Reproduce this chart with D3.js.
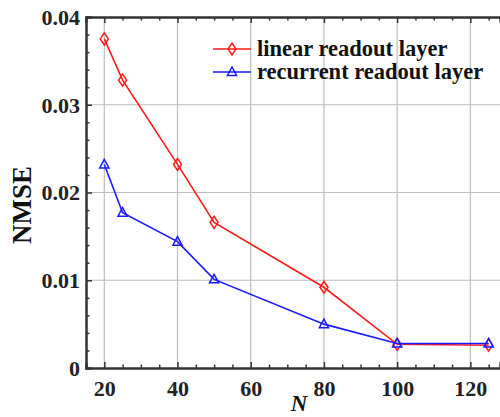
<!DOCTYPE html>
<html><head><meta charset="utf-8">
<script src="https://cdn.jsdelivr.net/npm/d3@7"></script>
<style>body{margin:0;background:#fff}svg{display:block}</style>
</head><body>
<svg id="c" width="500" height="417"></svg>
<script>
const nValues = [20, 25, 40, 50, 80, 100, 125];
const linearNMSE = [0.0375, 0.0328, 0.0232, 0.0166, 0.0092, 0.0027, 0.0026];
const recurrentNMSE = [0.0232, 0.0177, 0.0144, 0.0101, 0.0050, 0.0028, 0.0028];
const xTicks = [20, 40, 60, 80, 100, 120];
const yTicks = [0, 0.01, 0.02, 0.03, 0.04];
const yTickLabels = ["0", "0.01", "0.02", "0.03", "0.04"];
const seriesNames = ["linear readout layer", "recurrent readout layer"];

(function () {
const svg = d3.select("#c");
const L = 86, R = 500, T = 17, B = 368;
const x = d3.scaleLinear().domain([15, 128.1]).range([L, R]);
const y = d3.scaleLinear().domain([0, 0.04]).range([B, T]);
const font = "'Liberation Serif','Times New Roman',serif";
const axisColor = "#333";

const g = svg.append("g");
g.selectAll(".vg").data(xTicks).join("line")
  .attr("x1", d => x(d)).attr("x2", d => x(d)).attr("y1", T).attr("y2", B)
  .attr("stroke", "#bdbdbd").attr("stroke-width", 1.2);
g.selectAll(".hg").data(yTicks.filter(d => d > 0 && d < 0.04)).join("line")
  .attr("x1", L).attr("x2", R).attr("y1", d => y(d)).attr("y2", d => y(d))
  .attr("stroke", "#bdbdbd").attr("stroke-width", 1.2);

const xMinor = d3.range(20, 130, 5).filter(d => !xTicks.includes(d));
const yMinor = d3.range(1, 20).map(k => k * 0.002).filter((d, i) => (i + 1) % 5 !== 0);

const axBottom = svg.append("g").attr("transform", `translate(0,${B})`)
  .call(d3.axisBottom(x).tickValues(xTicks).tickSize(-6).tickPadding(12).tickFormat(d3.format("d")));
const axBottomMinor = svg.append("g").attr("transform", `translate(0,${B})`)
  .call(d3.axisBottom(x).tickValues(xMinor).tickSize(-3.5).tickFormat(""));
const axTop = svg.append("g").attr("transform", `translate(0,${T})`)
  .call(d3.axisTop(x).tickValues(xTicks).tickSize(-6).tickFormat(""));
const axTopMinor = svg.append("g").attr("transform", `translate(0,${T})`)
  .call(d3.axisTop(x).tickValues(xMinor).tickSize(-3.5).tickFormat(""));
const axLeft = svg.append("g").attr("transform", `translate(${L},0)`)
  .call(d3.axisLeft(y).tickValues(yTicks).tickSize(-6).tickPadding(6).tickFormat((d, i) => yTickLabels[i]));
const axLeftMinor = svg.append("g").attr("transform", `translate(${L},0)`)
  .call(d3.axisLeft(y).tickValues(yMinor).tickSize(-3.5).tickFormat(""));

[axBottom, axBottomMinor, axTop, axTopMinor, axLeft, axLeftMinor].forEach(a => {
  a.attr("font-family", font);
  a.select(".domain").attr("stroke", axisColor).attr("stroke-width", 2);
  a.selectAll(".tick line").attr("stroke", axisColor).attr("stroke-width", 1.5);
  a.selectAll(".tick text").attr("fill", "#222").attr("font-family", font)
    .attr("font-weight", "bold").attr("font-size", 22);
});
axBottom.selectAll(".tick text").attr("dy", "0.71em");
axLeft.selectAll(".tick text").attr("dy", "0.34em");

const series = [
  {name: seriesNames[0], vals: linearNMSE, color: "#ff1a1a", marker: "diamond"},
  {name: seriesNames[1], vals: recurrentNMSE, color: "#1a1aff", marker: "triangle"}
];
const line = d3.line().x(d => x(d[0])).y(d => y(d[1]));
function markerPath(type) {
  if (type === "diamond") return "M0,-6L4,0L0,6L-4,0Z";
  return "M0,-5L4.6,3.5L-4.6,3.5Z";
}
series.forEach(s => {
  const pts = nValues.map((n, i) => [n, s.vals[i]]);
  svg.append("path").datum(pts).attr("d", line).attr("fill", "none")
    .attr("stroke", s.color).attr("stroke-width", 1.6);
  svg.selectAll(null).data(pts).join("path")
    .attr("transform", d => `translate(${x(d[0])},${y(d[1])})`)
    .attr("d", markerPath(s.marker)).attr("fill", "none")
    .attr("stroke", s.color).attr("stroke-width", 1.5);
});

const lg = svg.append("g");
series.forEach((s, i) => {
  const ly = 49 + i * 23;
  lg.append("line").attr("x1", 213).attr("x2", 251).attr("y1", ly).attr("y2", ly)
    .attr("stroke", s.color).attr("stroke-width", 1.6);
  lg.append("path").attr("transform", `translate(232,${ly})`).attr("d", markerPath(s.marker))
    .attr("fill", "none").attr("stroke", s.color).attr("stroke-width", 1.5);
  lg.append("text").attr("x", 257).attr("y", ly).attr("dy", "0.32em")
    .attr("font-family", font).attr("font-weight", "bold").attr("font-size", 22.5)
    .attr("fill", "#111").text(s.name);
});

svg.append("text").attr("transform", "translate(31,205) rotate(-90)")
  .attr("text-anchor", "middle").attr("font-family", font).attr("font-weight", "bold")
  .attr("font-size", 27).attr("fill", "#111").text("NMSE");
svg.append("text").attr("x", 299).attr("y", 411).attr("text-anchor", "middle")
  .attr("font-family", font).attr("font-weight", "bold").attr("font-style", "italic")
  .attr("font-size", 23).attr("fill", "#111").text("N");
})();
</script>
</body></html>
